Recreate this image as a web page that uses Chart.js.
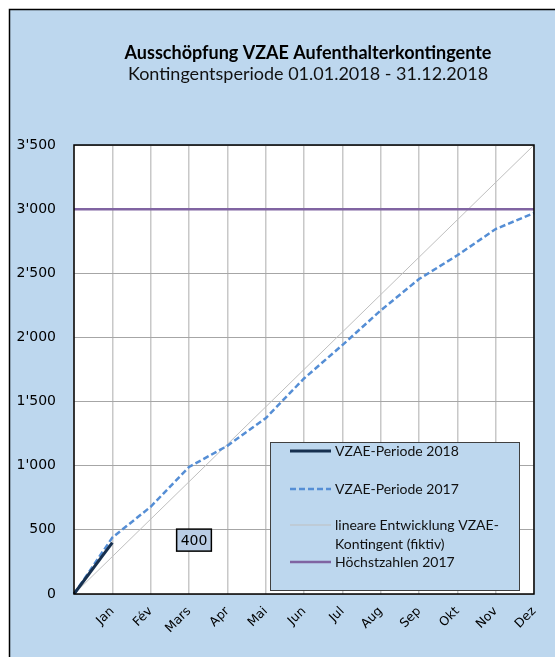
<!DOCTYPE html>
<html>
<head>
<meta charset="utf-8">
<script src="https://cdn.jsdelivr.net/npm/chart.js@4/dist/chart.umd.min.js"></script>
<style>
  html, body { margin: 0; padding: 0; background: #fff; }
  #wrap { width: 555px; height: 657px; }
</style>
</head>
<body>
<div id="wrap"><canvas id="myChart" width="555" height="657"></canvas></div>
<script>
const months = ['', 'Jan', 'Fév', 'Mars', 'Apr', 'Mai', 'Jun', 'Jul', 'Aug', 'Sep', 'Okt', 'Nov', 'Dez'];
const period2018 = [0, 400];
const period2017 = [0, 440, 680, 990, 1155, 1370, 1680, 1940, 2210, 2455, 2640, 2845, 2970];
const linearQuota = [0, null, null, null, null, null, null, null, null, null, null, null, 3500];
const max2017 = [3000, null, null, null, null, null, null, null, null, null, null, null, 3000];
const yTicks = [0, 500, 1000, 1500, 2000, 2500, 3000, 3500];

const titleText = 'Ausschöpfung VZAE Aufenthalterkontingente';
const subtitleText = 'Kontingentsperiode 01.01.2018 - 31.12.2018';

const bgBlue = '#BDD7EE';

function fmt(v) {
    return String(v).replace(/\B(?=(\d{3})+(?!\d))/g, "'");
}

const frame = {
    id: 'frame',
    beforeDraw(chart) {
        const c = chart.ctx;
        c.save();
        c.fillStyle = '#fff';
        c.fillRect(0, 0, chart.width, chart.height);
        c.fillStyle = bgBlue;
        c.fillRect(9, 9, chart.width, chart.height);
        c.strokeStyle = '#000';
        c.lineWidth = 1.5;
        c.beginPath();
        c.moveTo(9.5, chart.height);
        c.lineTo(9.5, 9.5);
        c.lineTo(chart.width, 9.5);
        c.stroke();
        const a = chart.chartArea;
        c.fillStyle = '#fff';
        c.fillRect(a.left, a.top, a.right - a.left, a.bottom - a.top);
        // titles
        const cx = (a.left + a.right) / 2 + 4;
        c.fillStyle = '#000';
        c.textAlign = 'center';
        c.textBaseline = 'alphabetic';
        c.font = 'bold 18px Lato';
        c.fillText(titleText, cx, 59);
        c.font = '18px Lato';
        c.fillStyle = '#111';
        c.fillText(subtitleText, cx, 80);
        c.restore();
    },
    afterDatasetsDraw(chart) {
        const c = chart.ctx;
        const a = chart.chartArea;
        c.save();
        c.strokeStyle = '#000';
        c.lineWidth = 1.5;
        c.strokeRect(a.left, a.top, a.right - a.left, a.bottom - a.top);

        // value box for latest 2018 figure
        const xs = chart.scales.x, ys = chart.scales.y;
        const last = period2018[period2018.length - 1];
        const bx = xs.getPixelForValue(3) + 5;
        const by = ys.getPixelForValue(420);
        c.font = '14px "DejaVu Sans"';
        const tw = c.measureText(fmt(last)).width;
        c.fillStyle = '#B9CDE5';
        c.fillRect(bx - tw / 2 - 4, by - 11, tw + 8, 22);
        c.strokeStyle = '#000';
        c.lineWidth = 1.5;
        c.strokeRect(bx - tw / 2 - 4, by - 11, tw + 8, 22);
        c.fillStyle = '#000';
        c.textAlign = 'center';
        c.textBaseline = 'middle';
        c.fillText(fmt(last), bx, by + 1);

        // legend
        const lx = 270, ly = 442, lw = 249, lh = 148;
        c.fillStyle = bgBlue;
        c.fillRect(lx, ly, lw, lh);
        c.strokeStyle = '#404040';
        c.lineWidth = 1;
        c.strokeRect(lx + 0.5, ly + 0.5, lw, lh);
        const rows = [451, 489, 525, 562];
        c.font = '14px Lato';
        c.textAlign = 'left';
        c.textBaseline = 'middle';
        chart.data.datasets.forEach((ds, i) => {
            const y = rows[i];
            c.strokeStyle = ds.borderColor;
            c.lineWidth = ds.borderWidth;
            c.setLineDash(ds.borderDash || []);
            c.beginPath();
            c.moveTo(290, y);
            c.lineTo(331, y);
            c.stroke();
            c.setLineDash([]);
            c.fillStyle = '#111';
            const lines = Array.isArray(ds.label) ? ds.label : [ds.label];
            lines.forEach((t, j) => c.fillText(t, 335, y + j * 19));
        });
        c.restore();
    }
};

const ctx = document.getElementById('myChart').getContext('2d');
new Chart(ctx, {
    type: 'line',
    data: {
        labels: months,
        datasets: [
            {
                label: 'VZAE-Periode 2018',
                data: period2018,
                borderColor: '#17304F',
                borderWidth: 3,
                order: 0
            },
            {
                label: 'VZAE-Periode 2017',
                data: period2017,
                borderColor: '#558ED5',
                borderWidth: 2.5,
                borderDash: [6, 3],
                order: 1
            },
            {
                label: ['lineare Entwicklung VZAE-', 'Kontingent (fiktiv)'],
                data: linearQuota,
                borderColor: '#BFBFBF',
                borderWidth: 1,
                spanGaps: true,
                order: 3
            },
            {
                label: 'Höchstzahlen 2017',
                data: max2017,
                borderColor: '#8064A2',
                borderWidth: 2.5,
                spanGaps: true,
                order: 2
            }
        ]
    },
    options: {
        responsive: false,
        animation: false,
        devicePixelRatio: 1,
        elements: { point: { radius: 0 }, line: { tension: 0 } },
        layout: { padding: { left: 0, top: 145, right: 21, bottom: 0 } },
        plugins: {
            legend: { display: false },
            tooltip: { enabled: false }
        },
        scales: {
            x: {
                offset: false,
                grid: { color: '#C8C8C8', lineWidth: 1.5, drawTicks: false, offset: false },
                border: { display: false },
                ticks: {
                    color: '#000',
                    font: { family: 'DejaVu Sans', size: 12.5 },
                    minRotation: 45,
                    maxRotation: 45,
                    padding: 10,
                    autoSkip: false
                },
                afterFit(scale) { scale.height = 63; }
            },
            y: {
                min: 0,
                max: 3500,
                afterBuildTicks(scale) { scale.ticks = yTicks.map(v => ({ value: v })); },
                grid: { color: '#A6A6A6', lineWidth: 1, drawTicks: false },
                border: { display: false },
                ticks: {
                    color: '#000',
                    font: { family: 'DejaVu Sans', size: 14 },
                    padding: 18,
                    callback: v => fmt(v)
                },
                afterFit(scale) { scale.width = 74; }
            }
        }
    },
    plugins: [frame]
});
</script>
</body>
</html>
